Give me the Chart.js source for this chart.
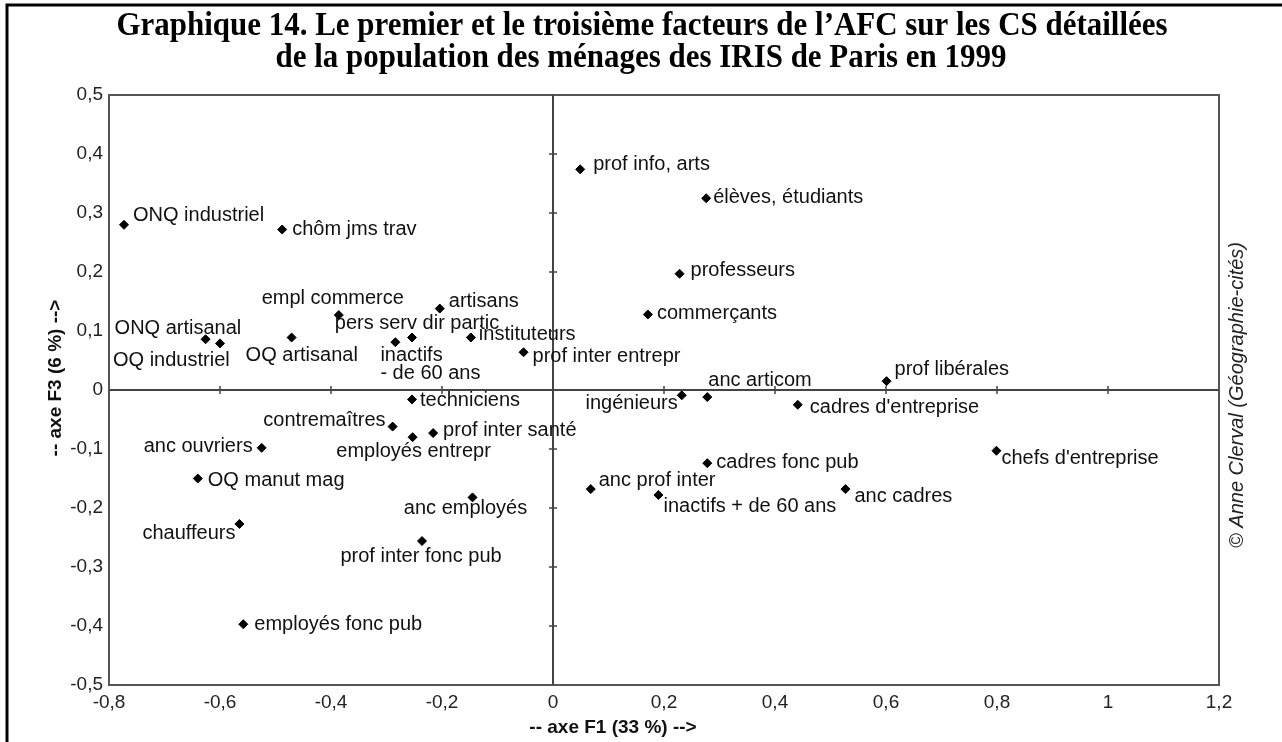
<!DOCTYPE html>
<html>
<head>
<meta charset="utf-8">
<script src="https://cdn.jsdelivr.net/npm/chart.js@4/dist/chart.umd.min.js"></script>
<style>
  html, body { margin:0; padding:0; background:#fff; }
  #wrap { position:relative; width:1282px; height:742px; }
</style>
</head>
<body>
<div id="wrap"><canvas id="afcChart" width="1282" height="742"></canvas></div>
<script>
// =======================
// DATA
// =======================
const names = [
  "ONQ industriel", "chôm jms trav", "empl commerce", "ONQ artisanal", "OQ industriel",
  "OQ artisanal", "pers serv dir partic", "inactifs\n- de 60 ans", "artisans", "instituteurs",
  "prof inter entrepr", "prof info, arts", "élèves, étudiants", "professeurs", "commerçants",
  "anc articom", "ingénieurs", "techniciens", "prof inter santé", "employés entrepr",
  "contremaîtres", "anc ouvriers", "OQ manut mag", "chauffeurs", "employés fonc pub",
  "anc employés", "prof inter fonc pub", "cadres d'entreprise", "cadres fonc pub", "anc prof inter",
  "inactifs + de 60 ans", "anc cadres", "chefs d'entreprise", "prof libérales"
];
const f1 = [
  -0.773, -0.488, -0.386, -0.626, -0.600,
  -0.471, -0.254, -0.284, -0.204, -0.148,
  -0.053, 0.049, 0.276, 0.228, 0.171,
  0.278, 0.232, -0.254, -0.216, -0.253,
  -0.289, -0.525, -0.640, -0.565, -0.558,
  -0.145, -0.236, 0.441, 0.278, 0.068,
  0.190, 0.527, 0.799, 0.601
];
const f3 = [
  0.280, 0.272, 0.127, 0.086, 0.079,
  0.089, 0.089, 0.081, 0.138, 0.089,
  0.064, 0.374, 0.325, 0.197, 0.128,
  -0.012, -0.009, -0.016, -0.073, -0.080,
  -0.062, -0.098, -0.150, -0.227, -0.397,
  -0.182, -0.256, -0.025, -0.124, -0.168,
  -0.178, -0.168, -0.103, 0.015
];
const xRange = [-0.8, 1.2, 0.2];
const yRange = [-0.5, 0.5, 0.1];

// where each label sits next to its point: [dx, dy, align]
const labelPlace = [
  [9,-9,"left"], [10,0,"left"], [-6,-17,"center"], [-91,-11,"left"], [-107,17,"left"],
  [-46,18,"left"], [5,-14,"center"], [-15,13,"left"], [9,-7,"left"], [8,-3,"left"],
  [9,4,"left"], [13,-5,"left"], [7,-1,"left"], [11,-3,"left"], [9,-1,"left"],
  [1,-17,"left"], [-4,8,"right"], [8,1,"left"], [10,-3,"left"], [1,14,"center"],
  [-7,-6,"right"], [-9,-1,"right"], [10,2,"left"], [-4,10,"right"], [11,0,"left"],
  [-7,11,"center"], [-1,15,"center"], [12,3,"left"], [9,-1,"left"], [8,-9,"left"],
  [5,11,"left"], [9,7,"left"], [5,8,"left"], [8,-12,"left"]
];

// =======================
// UTIL
// =======================
function frNum(v){
  const r = Math.round(v * 10) / 10;
  return String(r).replace(".", ",");
}

// =======================
// PLUGIN : frame, axes, labels, texts
// =======================
const decor = {
  id: "decor",
  beforeDraw(chart){
    const ctx = chart.ctx;
    ctx.save();
    ctx.fillStyle = "#fff";
    ctx.fillRect(0, 0, chart.width, chart.height);
    // outer frame (top + left)
    ctx.strokeStyle = "#000";
    ctx.lineWidth = 3;
    ctx.beginPath();
    ctx.moveTo(1282, 5); ctx.lineTo(7, 5); ctx.lineTo(7, 742);
    ctx.stroke();

    // title, condensed serif
    ctx.fillStyle = "#000";
    ctx.font = "bold 33px 'Liberation Serif', 'Times New Roman', serif";
    ctx.textAlign = "center";
    ctx.textBaseline = "alphabetic";
    const t1 = "Graphique 14. Le premier et le troisième facteurs de l’AFC sur les CS détaillées";
    const t2 = "de la population des ménages des IRIS de Paris en 1999";
    const sx = 1051 / ctx.measureText(t1).width;
    ctx.save(); ctx.translate(642, 35); ctx.scale(sx, 1); ctx.fillText(t1, 0, 0); ctx.restore();
    ctx.save(); ctx.translate(641, 67); ctx.scale(sx, 1); ctx.fillText(t2, 0, 0); ctx.restore();
    ctx.restore();
  },
  afterDraw(chart){
    const ctx = chart.ctx;
    const a = chart.chartArea;
    const xs = chart.scales.x, ys = chart.scales.y;
    ctx.save();

    // box
    ctx.strokeStyle = "#555";
    ctx.lineWidth = 2;
    ctx.strokeRect(a.left, a.top, a.right - a.left, a.bottom - a.top);

    // zero axes with crossing ticks
    const x0 = xs.getPixelForValue(0), y0 = ys.getPixelForValue(0);
    ctx.strokeStyle = "#444";
    ctx.beginPath();
    ctx.moveTo(a.left, y0); ctx.lineTo(a.right, y0);
    ctx.moveTo(x0, a.top); ctx.lineTo(x0, a.bottom);
    ctx.stroke();
    ctx.lineWidth = 1.5;
    ctx.beginPath();
    xs.ticks.forEach(t => {
      const px = xs.getPixelForValue(t.value);
      if (px <= a.left + 1 || px >= a.right - 1) return;
      ctx.moveTo(px, y0 - 4); ctx.lineTo(px, y0 + 4);
    });
    ys.ticks.forEach(t => {
      const py = ys.getPixelForValue(t.value);
      if (py <= a.top + 1 || py >= a.bottom - 1) return;
      ctx.moveTo(x0 - 4, py); ctx.lineTo(x0 + 4, py);
    });
    ctx.stroke();

    // point labels
    ctx.fillStyle = "#111";
    ctx.font = "20px 'Liberation Sans', Arial, sans-serif";
    ctx.textBaseline = "middle";
    chart.getDatasetMeta(0).data.forEach((pt, i) => {
      const [dx, dy, al] = labelPlace[i];
      ctx.textAlign = al;
      names[i].split("\n").forEach((line, k) => {
        ctx.fillText(line, pt.x + dx, pt.y + dy + k * 18);
      });
    });

    // axis titles
    ctx.fillStyle = "#111";
    ctx.font = "bold 19px 'Liberation Sans', Arial, sans-serif";
    ctx.textAlign = "center";
    ctx.fillText("-- axe F1 (33 %) -->", 613, 728);
    ctx.save();
    ctx.translate(56, 378); ctx.rotate(-Math.PI / 2);
    ctx.fillText("-- axe F3 (6 %) -->", 0, 0);
    ctx.restore();

    // copyright
    ctx.font = "italic 20px 'Liberation Sans', Arial, sans-serif";
    ctx.fillStyle = "#222";
    ctx.save();
    ctx.translate(1237, 395); ctx.rotate(-Math.PI / 2);
    ctx.fillText("© Anne Clerval (Géographie-cités)", 0, 0);
    ctx.restore();

    ctx.restore();
  }
};

// =======================
// CHART
// =======================
const tickFont = { family: "'Liberation Sans', Arial, sans-serif", size: 19 };

new Chart(document.getElementById("afcChart"), {
  type: "scatter",
  data: {
    datasets: [{
      data: f1.map((x, i) => ({ x: x, y: f3[i] })),
      pointStyle: "rectRot",
      pointRadius: 4.5,
      pointBorderWidth: 1,
      backgroundColor: "#000",
      borderColor: "#000"
    }]
  },
  options: {
    responsive: false,
    animation: false,
    layout: { padding: { top: 95, right: 63, left: 0, bottom: 0 } },
    plugins: { legend: { display: false }, tooltip: { enabled: false } },
    scales: {
      x: {
        type: "linear",
        min: xRange[0], max: xRange[1],
        ticks: { stepSize: xRange[2], color: "#222", font: tickFont, padding: 6, maxRotation: 0,
                 callback: v => frNum(v) },
        grid: { display: false, drawTicks: false },
        border: { display: false },
        afterFit(s){ s.height = 57; }
      },
      y: {
        type: "linear",
        min: yRange[0], max: yRange[1],
        ticks: { stepSize: yRange[2], color: "#222", font: tickFont, padding: 6,
                 callback: v => frNum(v) },
        grid: { display: false, drawTicks: false },
        border: { display: false },
        afterFit(s){ s.width = 109; }
      }
    }
  },
  plugins: [decor]
});
</script>
</body>
</html>
